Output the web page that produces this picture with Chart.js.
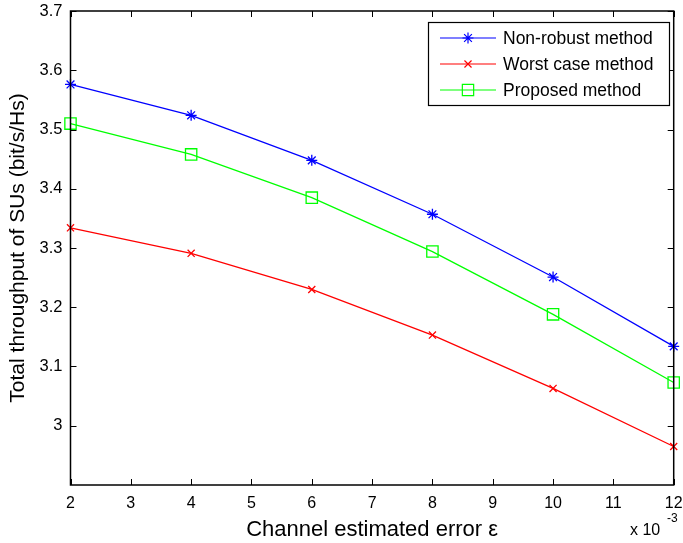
<!DOCTYPE html>
<html>
<head>
<meta charset="utf-8">
<script src="https://cdn.jsdelivr.net/npm/chart.js@4/dist/chart.umd.min.js"></script>
<style>
  html, body { margin: 0; padding: 0; background: #fff; }
  #wrap { width: 683px; height: 543px; position: relative; }
</style>
</head>
<body>
<div id="wrap"><canvas id="tputChart"></canvas></div>
<script>
// channel estimation error (x 10^-3)
const errors = [2, 4, 6, 8, 10, 12];
const xTicks = [2, 3, 4, 5, 6, 7, 8, 9, 10, 11, 12];
const yTicks = [3, 3.1, 3.2, 3.3, 3.4, 3.5, 3.6, 3.7];

// total throughput of SUs (bit/s/Hz)
const nonRobust = [3.576, 3.524, 3.448, 3.357, 3.251, 3.134];
const worstCase = [3.334, 3.291, 3.230, 3.153, 3.063, 2.965];
const proposed  = [3.510, 3.458, 3.385, 3.294, 3.188, 3.073];

const FONT = '"Liberation Sans", Arial, sans-serif';

function toPoints(vals) {
  return vals.map((v, i) => ({ x: errors[i], y: v }));
}

const series = [
  { label: 'Non-robust method', data: nonRobust, color: '#0000ff', style: 'star', radius: 5.5 },
  { label: 'Worst case method', data: worstCase, color: '#ff0000', style: 'crossRot', radius: 5 },
  { label: 'Proposed method', data: proposed, color: '#00ff00', style: 'rect', radius: 8 }
];

// MATLAB-like frame: box, inward ticks on all sides, legend and exponent label
const framePlugin = {
  id: 'frame',
  afterDatasetsDraw(chart) {
    const { ctx, chartArea: a, scales: { x, y } } = chart;
    ctx.save();
    ctx.strokeStyle = '#000';
    ctx.lineWidth = 1.5;
    ctx.strokeRect(a.left, a.top, a.right - a.left, a.bottom - a.top);

    ctx.lineWidth = 1;
    const tl = 6;
    ctx.beginPath();
    xTicks.forEach(t => {
      const px = Math.round(x.getPixelForValue(t)) + 0.5;
      ctx.moveTo(px, a.bottom); ctx.lineTo(px, a.bottom - tl);
      ctx.moveTo(px, a.top); ctx.lineTo(px, a.top + tl);
    });
    yTicks.forEach(t => {
      const py = Math.round(y.getPixelForValue(t)) + 0.5;
      ctx.moveTo(a.left, py); ctx.lineTo(a.left + tl, py);
      ctx.moveTo(a.right, py); ctx.lineTo(a.right - tl, py);
    });
    ctx.stroke();

    // legend box
    const lx = 428, ly = 22, lw = 241, lh = 83;
    ctx.fillStyle = '#fff';
    ctx.fillRect(lx, ly, lw, lh);
    ctx.lineWidth = 1.2;
    ctx.strokeStyle = '#000';
    ctx.strokeRect(lx + 0.5, ly + 0.5, lw, lh);
    ctx.font = '17.5px ' + FONT;
    ctx.textBaseline = 'middle';
    series.forEach((s, i) => {
      const ry = 38 + i * 26;
      ctx.strokeStyle = s.color;
      ctx.fillStyle = 'rgba(0,0,0,0)';
      ctx.lineWidth = 1.2;
      ctx.beginPath();
      ctx.moveTo(440, ry); ctx.lineTo(496, ry);
      ctx.stroke();
      Chart.helpers.drawPoint(ctx, {
        pointStyle: s.style, radius: s.radius, borderWidth: 1.2
      }, 468, ry);
      ctx.fillStyle = '#000';
      ctx.fillText(s.label, 503, ry + 1);
    });

    // x-axis exponent
    ctx.fillStyle = '#000';
    ctx.textBaseline = 'alphabetic';
    ctx.font = '16px ' + FONT;
    ctx.fillText('x 10', 630, 535);
    ctx.font = '12px ' + FONT;
    ctx.fillText('-3', 667, 522);
    ctx.restore();
  }
};

new Chart(document.getElementById('tputChart'), {
  type: 'line',
  data: {
    datasets: series.map(s => ({
      label: s.label,
      data: toPoints(s.data),
      borderColor: s.color,
      backgroundColor: 'rgba(0,0,0,0)',
      borderWidth: 1.3,
      pointStyle: s.style,
      pointRadius: s.radius,
      pointBorderColor: s.color,
      pointBorderWidth: 1.3,
      pointBackgroundColor: 'rgba(0,0,0,0)',
      tension: 0,
      fill: false,
      clip: false
    }))
  },
  options: {
    responsive: true,
    maintainAspectRatio: false,
    animation: false,
    layout: { padding: { top: 11, right: 7, left: 0, bottom: 0 } },
    plugins: {
      legend: { display: false },
      tooltip: { enabled: false }
    },
    scales: {
      x: {
        type: 'linear',
        min: 2,
        max: 12,
        afterBuildTicks: s => { s.ticks = xTicks.map(v => ({ value: v })); },
        afterFit: s => { s.height = 58; s.paddingLeft = 0; s.paddingRight = 0; },
        grid: { display: false, drawTicks: false },
        border: { display: false },
        ticks: { color: '#000', font: { family: FONT, size: 16 }, padding: 9, maxRotation: 0 },
        title: {
          display: true,
          text: 'Channel estimated error ε',
          color: '#000',
          font: { family: FONT, size: 22 },
          padding: { top: 0, bottom: 0 }
        }
      },
      y: {
        type: 'linear',
        min: 2.9,
        max: 3.7,
        afterBuildTicks: s => { s.ticks = yTicks.map(v => ({ value: v })); },
        afterFit: s => { s.width = 70.5; s.paddingTop = 0; s.paddingBottom = 0; },
        grid: { display: false, drawTicks: false },
        border: { display: false },
        ticks: {
          color: '#000',
          font: { family: FONT, size: 16.5 },
          padding: 8,
          callback: v => String(Math.round(v * 10) / 10)
        },
        title: {
          display: true,
          text: 'Total throughput of SUs (bit/s/Hs)',
          color: '#000',
          font: { family: FONT, size: 21 },
          padding: { top: 6, bottom: 0 }
        }
      }
    }
  },
  plugins: [framePlugin]
});
</script>
</body>
</html>
